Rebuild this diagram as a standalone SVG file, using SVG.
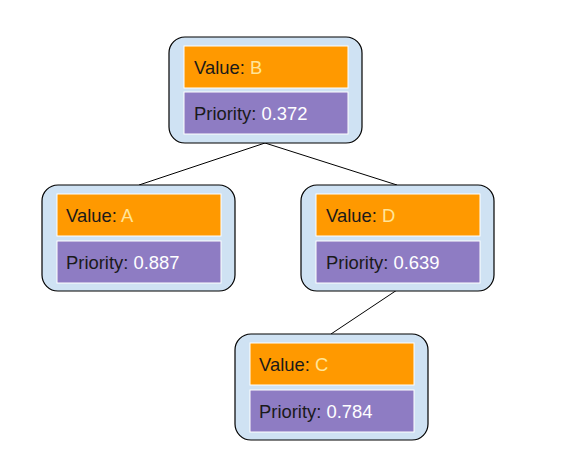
<svg xmlns="http://www.w3.org/2000/svg" width="565" height="467" viewBox="0 0 565 467">
<style>
.outer{fill:#cfe2f3;stroke:#000;stroke-width:1.2}
.val{fill:#ff9900;stroke:#fff;stroke-width:1}
.pri{fill:#8e7cc3;stroke:#fff;stroke-width:1}
text{font-family:"Liberation Sans",Arial,sans-serif;font-size:18.4px;fill:#1a1a1a}
.hv{fill:#ffe599}
.hp{fill:#fff}
.edge{stroke:#000;stroke-width:1;fill:none}
</style>
<rect width="565" height="467" fill="#fff"/>
<g id="connectors">
<line class="edge" x1="265" y1="143" x2="139" y2="185"/>
<line class="edge" x1="265" y1="143" x2="397" y2="185"/>
<line class="edge" x1="397" y1="290" x2="331" y2="334"/>
</g>
<g id="node-B">
<rect class="outer" x="169" y="37" width="193" height="106" rx="16"/>
<rect class="val" x="184" y="46" width="164" height="42"/>
<rect class="pri" x="184" y="92" width="164" height="42"/>
<text x="194" y="73.5">Value: <tspan class="hv">B</tspan></text>
<text x="194" y="120">Priority: <tspan class="hp">0.372</tspan></text>
</g>
<g id="node-A">
<rect class="outer" x="42" y="185" width="193" height="106" rx="16"/>
<rect class="val" x="57" y="194" width="164" height="42"/>
<rect class="pri" x="57" y="241" width="164" height="42"/>
<text x="66" y="221.5">Value: <tspan class="hv">A</tspan></text>
<text x="66" y="269">Priority: <tspan class="hp">0.887</tspan></text>
</g>
<g id="node-D">
<rect class="outer" x="301" y="185" width="193" height="106" rx="16"/>
<rect class="val" x="316" y="194" width="164" height="42"/>
<rect class="pri" x="316" y="241" width="164" height="42"/>
<text x="326" y="221.5">Value: <tspan class="hv">D</tspan></text>
<text x="326" y="269">Priority: <tspan class="hp">0.639</tspan></text>
</g>
<g id="node-C">
<rect class="outer" x="235" y="334" width="193" height="106" rx="16"/>
<rect class="val" x="250" y="343" width="164" height="42"/>
<rect class="pri" x="250" y="390" width="164" height="42"/>
<text x="259" y="370.5">Value: <tspan class="hv">C</tspan></text>
<text x="259" y="418">Priority: <tspan class="hp">0.784</tspan></text>
</g>
</svg>
